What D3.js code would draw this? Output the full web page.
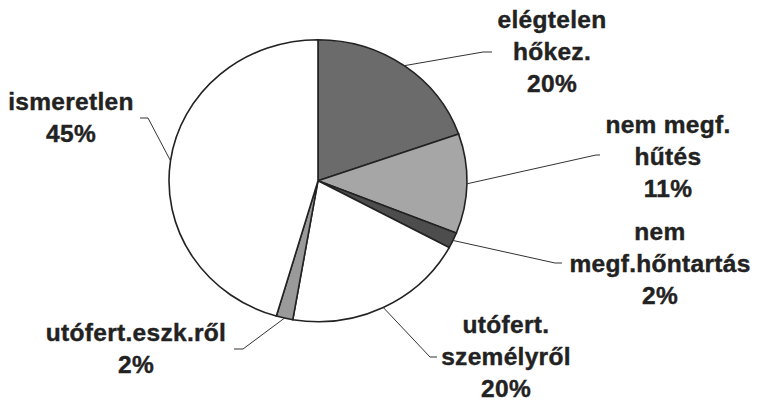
<!DOCTYPE html>
<html>
<head>
<meta charset="utf-8">
<script src="https://cdn.jsdelivr.net/npm/d3@7"></script>
<style>
  body { margin: 0; background: #fff; }
  text { font-family: "Liberation Sans", Arial, sans-serif; font-weight: bold; font-size: 24.5px; letter-spacing: 0.3px; fill: #222; stroke: #222; stroke-width: 0.4px; }
</style>
</head>
<body>
<svg width="764" height="402"></svg>
<script>
// data
var categories = [["elégtelen", "hőkez."], ["nem megf.", "hűtés"], ["nem", "megf.hőntartás"],
                  ["utófert.", "személyről"], ["utófert.eszk.ről"], ["ismeretlen"]];
var values = [19.6, 11.4, 1.8, 19.8, 1.8, 45.4];
var percentLabels = ["20%", "11%", "2%", "20%", "2%", "45%"];
var fills = ["#6b6b6b", "#a6a6a6", "#4d4d4d", "#ffffff", "#9a9a9a", "#ffffff"];

// label layout (center x, first baseline, elbow, end of leader)
var labelX = [552, 668, 660, 506, 136, 71];
var labelY = [28, 133, 240, 333, 341, 110];
var elbows = [[483, 52, 492], [596, 155, 600], [555, 263, 562], [430, 357, 437], [243, 349, 234], [148, 118, 140]];

var svg = d3.select("svg");
var cx = 318, cy = 180.7, rx = 149, ry = 141;
var lineH = 32;

var pie = d3.pie().sort(null).value(function(d) { return d; });
var arcs = pie(values);
var arc = d3.arc().innerRadius(0).outerRadius(rx);

var g = svg.append("g")
    .attr("transform", "translate(" + cx + "," + cy + ") scale(1," + (ry / rx) + ")");

g.selectAll("path")
  .data(arcs)
  .enter().append("path")
    .attr("d", arc)
    .attr("fill", function(d, i) { return fills[i]; })
    .attr("stroke", "#222")
    .attr("stroke-width", 1.6)
    .attr("vector-effect", "non-scaling-stroke");

// leader lines
arcs.forEach(function(d, i) {
  var a = (d.startAngle + d.endAngle) / 2;
  var sx = cx + rx * Math.sin(a), sy = cy - ry * Math.cos(a);
  var e = elbows[i];
  svg.append("path")
    .attr("d", "M" + sx + "," + sy + "L" + e[0] + "," + e[1] + "L" + e[2] + "," + e[1])
    .attr("fill", "none")
    .attr("stroke", "#333")
    .attr("stroke-width", 1);
});

// labels
categories.forEach(function(lines, i) {
  var t = svg.append("text")
    .attr("text-anchor", "middle");
  lines.concat([percentLabels[i]]).forEach(function(s, j) {
    t.append("tspan")
      .attr("x", labelX[i])
      .attr("y", labelY[i] + j * lineH)
      .text(s);
  });
});
</script>
</body>
</html>
